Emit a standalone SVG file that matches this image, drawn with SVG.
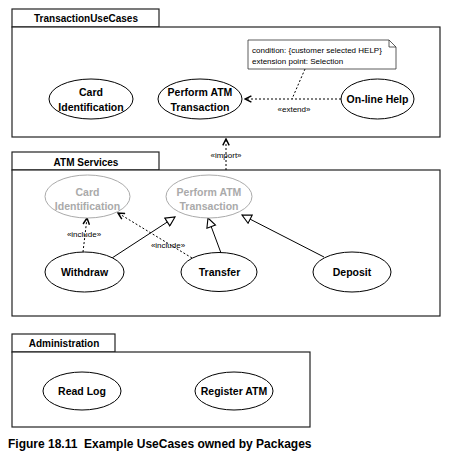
<svg xmlns="http://www.w3.org/2000/svg" width="452" height="455" viewBox="0 0 452 455">
<defs>
<style>
.pkg{fill:#fff;stroke:#222;stroke-width:1.2}
.uc{fill:#fff;stroke:#000;stroke-width:1}
.ucg{fill:#fff;stroke:#aaa;stroke-width:1}
.lbl{font-family:"Liberation Sans",Arial,sans-serif;font-weight:bold;font-size:10.5px;fill:#000;text-anchor:middle}
.lblg{font-family:"Liberation Sans",Arial,sans-serif;font-weight:bold;font-size:10.5px;fill:#aaa;text-anchor:middle}
.tab{font-family:"Liberation Sans",Arial,sans-serif;font-weight:bold;font-size:10px;fill:#000;text-anchor:middle}
.st{font-family:"Liberation Sans",Arial,sans-serif;font-size:8px;fill:#000;text-anchor:middle}
.note{font-family:"Liberation Sans",Arial,sans-serif;font-size:8px;fill:#000}
.dash{fill:none;stroke:#000;stroke-width:1;stroke-dasharray:2,2}
.sol{fill:none;stroke:#000;stroke-width:1}
.cap{font-family:"Liberation Sans",Arial,sans-serif;font-weight:bold;font-size:12px;fill:#000}
</style>
<marker id="open" viewBox="0 0 10 10" refX="9" refY="5" markerWidth="8" markerHeight="8" markerUnits="userSpaceOnUse" orient="auto">
<path d="M1,1 L9,5 L1,9" fill="none" stroke="#000" stroke-width="1.8"/>
</marker>
<marker id="tri" viewBox="0 0 12 12" refX="11" refY="6" markerWidth="11" markerHeight="11" markerUnits="userSpaceOnUse" orient="auto">
<path d="M1,1 L11,6 L1,11 Z" fill="#fff" stroke="#000" stroke-width="1.2"/>
</marker>
</defs>
<rect width="452" height="455" fill="#fff"/>

<g id="pkg-TransactionUseCases">
<rect class="pkg" x="12" y="9" width="147" height="18"/>
<rect class="pkg" x="12" y="27" width="428" height="110"/>
<text class="tab" x="86" y="22">TransactionUseCases</text>
</g>
<g id="pkg-ATMServices">
<rect class="pkg" x="12" y="152" width="147" height="18"/>
<rect class="pkg" x="12" y="170" width="428" height="146"/>
<text class="tab" x="86" y="165.5">ATM Services</text>
</g>
<g id="pkg-Administration">
<rect class="pkg" x="12" y="334" width="103" height="18"/>
<rect class="pkg" x="12" y="352" width="298" height="75"/>
<text class="tab" x="64" y="347">Administration</text>
</g>

<g id="connectors">
<line class="dash" x1="341" y1="99" x2="245" y2="99" marker-end="url(#open)"/>
<text class="st" x="294" y="112">«extend»</text>
<line class="dash" x1="305" y1="69" x2="292" y2="99"/>
<line class="dash" x1="226" y1="170" x2="226" y2="139" marker-end="url(#open)"/>
<text class="st" x="226" y="158">«import»</text>
<line class="dash" x1="83" y1="252" x2="87" y2="218" marker-end="url(#open)"/>
<text class="st" x="84" y="237">«include»</text>
<line class="dash" x1="192" y1="258" x2="118" y2="213" marker-end="url(#open)"/>
<text class="st" x="168" y="248">«include»</text>
<line class="sol" x1="112" y1="258" x2="175" y2="217" marker-end="url(#tri)"/>
<line class="sol" x1="221" y1="253" x2="208" y2="218" marker-end="url(#tri)"/>
<line class="sol" x1="324" y1="257" x2="242" y2="215" marker-end="url(#tri)"/>
</g>

<g id="note-extend">
<path d="M248,40 L389,40 L396,47 L396,69 L248,69 Z" fill="#fff" stroke="#333" stroke-width="0.8"/>
<path d="M389,40 L389,47 L396,47" fill="none" stroke="#333" stroke-width="0.8"/>
<text class="note" x="252" y="53">condition: {customer selected HELP}</text>
<text class="note" x="252" y="64">extension point: Selection</text>
</g>

<g id="uc-CardIdentification">
<ellipse class="uc" cx="91" cy="99" rx="42" ry="20"/>
<text class="lbl" x="91" y="96">Card</text>
<text class="lbl" x="91" y="111">Identification</text>
</g>
<g id="uc-PerformATMTransaction">
<ellipse class="uc" cx="200" cy="99" rx="42" ry="20"/>
<text class="lbl" x="200" y="96">Perform ATM</text>
<text class="lbl" x="200" y="111">Transaction</text>
</g>
<g id="uc-OnlineHelp">
<ellipse class="uc" cx="377.5" cy="99" rx="36.5" ry="20"/>
<text class="lbl" x="377.5" y="103">On-line Help</text>
</g>

<g id="uc-CardIdentification-ref">
<ellipse class="ucg" cx="87.5" cy="196.5" rx="42.5" ry="21.5"/>
<text class="lblg" x="87.5" y="196">Card</text>
<text class="lblg" x="87.5" y="209.5">Identification</text>
</g>
<g id="uc-PerformATMTransaction-ref">
<ellipse class="ucg" cx="209" cy="196.5" rx="43" ry="21.5"/>
<text class="lblg" x="209" y="196">Perform ATM</text>
<text class="lblg" x="209" y="209.5">Transaction</text>
</g>
<g id="uc-Withdraw">
<ellipse class="uc" cx="84.5" cy="272" rx="39.5" ry="20"/>
<text class="lbl" x="84.5" y="276">Withdraw</text>
</g>
<g id="uc-Transfer">
<ellipse class="uc" cx="219" cy="272" rx="38" ry="19.5"/>
<text class="lbl" x="219.5" y="276">Transfer</text>
</g>
<g id="uc-Deposit">
<ellipse class="uc" cx="352" cy="272" rx="39" ry="20"/>
<text class="lbl" x="352" y="276">Deposit</text>
</g>

<g id="uc-ReadLog">
<ellipse class="uc" cx="82" cy="391" rx="39" ry="19"/>
<text class="lbl" x="82" y="395">Read Log</text>
</g>
<g id="uc-RegisterATM">
<ellipse class="uc" cx="234" cy="391" rx="39" ry="19"/>
<text class="lbl" x="234" y="395">Register ATM</text>
</g>

<text class="cap" x="8" y="448" xml:space="preserve">Figure 18.11  Example UseCases owned by Packages</text>
</svg>
